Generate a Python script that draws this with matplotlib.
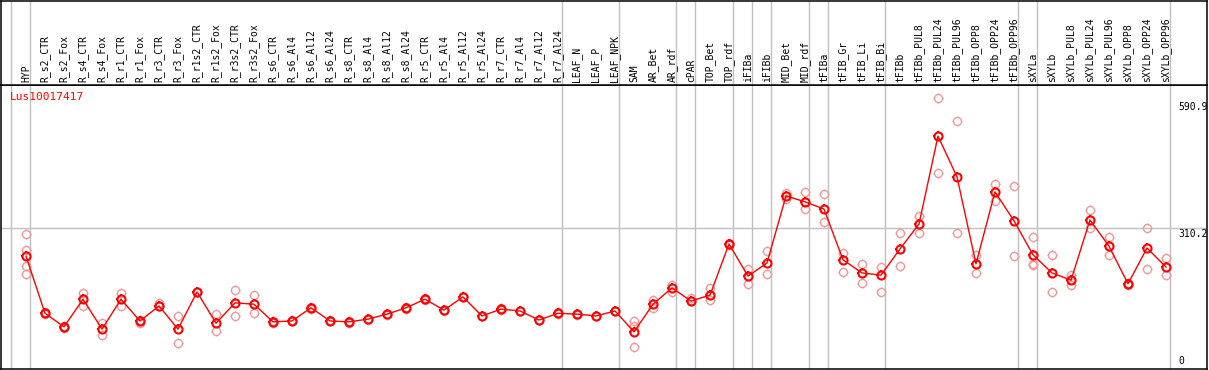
import matplotlib
matplotlib.use("Agg")
import matplotlib.pyplot as plt
from matplotlib.path import Path
import matplotlib.transforms as mtransforms

samples = ["HYP", "R_s2_CTR", "R_s2_Fox", "R_s4_CTR", "R_s4_Fox", "R_r1_CTR", "R_r1_Fox",
           "R_r3_CTR", "R_r3_Fox", "R_r1s2_CTR", "R_r1s2_Fox", "R_r3s2_CTR", "R_r3s2_Fox",
           "R_s6_CTR", "R_s6_Al4", "R_s6_Al12", "R_s6_Al24", "R_s8_CTR", "R_s8_Al4",
           "R_s8_Al12", "R_s8_Al24", "R_r5_CTR", "R_r5_Al4", "R_r5_Al12", "R_r5_Al24",
           "R_r7_CTR", "R_r7_Al4", "R_r7_Al12", "R_r7_Al24", "LEAF_N", "LEAF_P", "LEAF_NPK",
           "SAM", "AR_Bet", "AR_rdf", "cPAR", "TOP_Bet", "TOP_rdf", "iFIBa", "iFIBb",
           "MID_Bet", "MID_rdf", "tFIBa", "tFIB_Gr", "tFIB_Li", "tFIB_Bi", "tFIBb",
           "tFIBb_PUL8", "tFIBb_PUL24", "tFIBb_PUL96", "tFIBb_OPP8", "tFIBb_OPP24",
           "tFIBb_OPP96", "sXYLa", "sXYLb", "sXYLb_PUL8", "sXYLb_PUL24", "sXYLb_PUL96",
           "sXYLb_OPP8", "sXYLb_OPP24", "sXYLb_OPP96"]

means = [248, 122, 92, 153, 87, 153, 105, 138, 87, 169, 100, 145, 142,
         103, 105, 134, 105, 103, 109, 120, 134, 153, 129, 158, 116,
         131, 127, 107, 122, 120, 116, 127,
         81, 142, 178, 149, 162, 275, 204, 233, 381, 368, 352, 240, 211, 206,
         264, 319, 513, 423, 231, 390, 326,
         251, 211, 195, 328, 270, 187, 266, 224]

replicates = [[297, 262, 226, 209], [121, 124], [90, 93], [167, 138], [100, 74],
              [167, 138], [101, 106], [145, 138], [116, 56], [170, 168], [120, 83],
              [173, 116], [162, 122], [101, 104], [104, 106], [132, 135], [104, 106],
              [101, 104], [108, 110], [119, 121], [132, 135], [152, 155], [128, 130],
              [157, 159], [115, 117], [130, 133], [126, 128], [106, 108], [121, 124],
              [119, 121], [115, 117], [126, 128], [105, 94, 48], [151, 134], [184, 169],
              [156, 149], [178, 151], [277, 273], [220, 187], [259, 209], [388, 374],
              [390, 352], [385, 324], [255, 213], [231, 189], [224, 169], [299, 226],
              [337, 299], [597, 431], [547, 299], [251, 211], [407, 370], [403, 248],
              [290, 231, 228], [251, 169], [206, 184], [350, 310], [290, 251],
              [184, 189], [310, 220], [244, 206]]

# index of the last sample in each group (-1 = line before the first one)
group_ends = [-1, 0, 28, 31, 34, 35, 37, 38, 39, 41, 42, 45, 52, 53, 60]
ytick_vals = [0, 310.2, 590.9]
ytick_text = ["0", "310.2", "590.9"]
gene = "Lus10017417"

# four little spikes sitting outside the circle marker
segs = []
for a, b in [((0, 1), (0, 1.3)), ((0, -1), (0, -1.3)), ((1, 0), (1.3, 0)), ((-1, 0), (-1.3, 0))]:
    segs.append(Path([a, b], [Path.MOVETO, Path.LINETO]))
spikes = Path.make_compound_path(*segs)


def draw_points(ax, x, y, col, lw, z):
    ax.plot(x, y, linestyle="none", marker="o", markersize=5.8, markerfacecolor="none",
            markeredgecolor=col, markeredgewidth=lw, zorder=z)
    ax.plot(x, y, linestyle="none", marker=spikes, markersize=7.6, markerfacecolor="none",
            markeredgecolor=col, markeredgewidth=lw, zorder=z)


W, H = 1209, 370
fig = plt.figure(figsize=(W / 100, H / 100), dpi=100)
ax = fig.add_axes([1 / W, 1 / H, 1206 / W, 284 / H])
axh = fig.add_axes([1 / W, 285 / H, 1206 / W, 84 / H])

x0 = -25 / 19
for a in (ax, axh):
    a.set_xlim(x0, x0 + 1206 / 19)
    a.set_xticks([])
    a.set_yticks([])
    for s in a.spines.values():
        s.set_linewidth(1.1)
        s.set_color("black")
    for g in group_ends:
        a.axvline(g + 0.2, color="#c0c0c0", lw=1.0, zorder=0)

ax.set_ylim(-1.1, 625.9)
axh.set_ylim(0, 1)
ax.axhline(310.2, color="#c0c0c0", lw=1.0, zorder=0)

xs = list(range(len(samples)))
for i, reps in enumerate(replicates):
    draw_points(ax, [i] * len(reps), reps, "#ee9a9a", 1.0, 2)

ax.plot(xs, means, color="red", lw=1.0, zorder=3)
draw_points(ax, xs, means, "red", 1.5, 4)

font = "DejaVu Sans Mono"
tr = mtransforms.blended_transform_factory(axh.transData, axh.transAxes)
for i, name in enumerate(samples):
    axh.text(i, 3 / 84, name, rotation=90, ha="center", va="bottom",
             fontsize=7, family=font, transform=tr)

ax.text(9 / 1206, 1 - 7 / 284, gene, color="red", fontsize=8, family=font,
        ha="left", va="top", transform=ax.transAxes)

trl = mtransforms.blended_transform_factory(ax.transAxes, ax.transData)
for v, t in zip(ytick_vals, ytick_text):
    if v == 0:
        ax.annotate(t, (1177 / 1206, v), xycoords=trl, xytext=(0, 3), textcoords="offset pixels",
                    ha="left", va="bottom", fontsize=7, family=font)
    else:
        ax.annotate(t, (1177 / 1206, v), xycoords=trl, xytext=(0, -1), textcoords="offset pixels",
                    ha="left", va="top", fontsize=7, family=font)

fig.savefig("out.png", dpi=100)
